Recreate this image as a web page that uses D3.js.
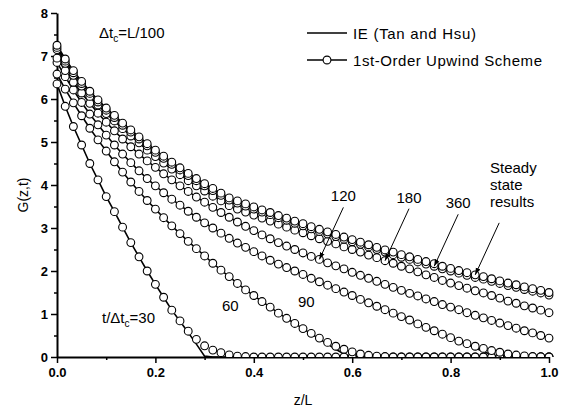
<!DOCTYPE html>
<html>
<head>
<meta charset="utf-8">
<script src="https://cdn.jsdelivr.net/npm/d3@7"></script>
<style>
  body { margin: 0; background: #fff; }
  svg { font-family: "Liberation Sans", Arial, sans-serif; }
</style>
</head>
<body>
<svg id="chart"></svg>
<script>
// z/L positions of the computed nodes (every L/60)
const zGrid = [0, 0.0167, 0.0333, 0.05, 0.0667, 0.0833, 0.1, 0.1167, 0.1333, 0.15, 0.1667, 0.1833,
  0.2, 0.2167, 0.2333, 0.25, 0.2667, 0.2833, 0.3, 0.3167, 0.3333, 0.35, 0.3667, 0.3833,
  0.4, 0.4167, 0.4333, 0.45, 0.4667, 0.4833, 0.5, 0.5167, 0.5333, 0.55, 0.5667, 0.5833,
  0.6, 0.6167, 0.6333, 0.65, 0.6667, 0.6833, 0.7, 0.7167, 0.7333, 0.75, 0.7667, 0.7833,
  0.8, 0.8167, 0.8333, 0.85, 0.8667, 0.8833, 0.9, 0.9167, 0.9333, 0.95, 0.9667, 0.9833, 1];

// 1st-order upwind results, G(z,t)
const upwind30 = [6.35, 5.83, 5.36, 4.93, 4.50, 4.12, 3.73, 3.38, 3.02, 2.66, 2.33, 2.00,
  1.69, 1.39, 1.09, 0.84, 0.60, 0.41, 0.26, 0.16, 0.10, 0.05, 0.02, 0.01,
  0, 0, 0, 0, 0, 0, 0, 0, 0, 0, 0, 0, 0, 0, 0, 0, 0, 0, 0, 0, 0, 0, 0, 0, 0, 0, 0, 0, 0, 0, 0, 0, 0, 0, 0, 0, 0];
const upwind60 = [6.58, 6.23, 5.91, 5.61, 5.32, 5.05, 4.79, 4.54, 4.30, 4.07, 3.85, 3.64,
  3.44, 3.24, 3.05, 2.87, 2.69, 2.52, 2.35, 2.18, 2.02, 1.87, 1.71, 1.56,
  1.43, 1.29, 1.16, 1.02, 0.90, 0.78, 0.66, 0.55, 0.44, 0.34, 0.25, 0.18,
  0.12, 0.07, 0.04, 0.02, 0.01, 0, 0, 0, 0, 0, 0, 0, 0, 0, 0, 0, 0, 0, 0, 0, 0, 0, 0, 0, 0];
const upwind90 = [6.85, 6.52, 6.21, 5.92, 5.65, 5.40, 5.16, 4.93, 4.72, 4.52, 4.33, 4.15,
  3.98, 3.82, 3.67, 3.53, 3.39, 3.25, 3.12, 3.00, 2.88, 2.76, 2.65, 2.55,
  2.45, 2.35, 2.25, 2.16, 2.08, 2.00, 1.92, 1.83, 1.75, 1.67, 1.59, 1.51,
  1.43, 1.34, 1.26, 1.18, 1.10, 1.02, 0.94, 0.86, 0.77, 0.69, 0.61, 0.53,
  0.45, 0.37, 0.31, 0.25, 0.20, 0.15, 0.11, 0.07, 0.045, 0.025, 0.01, 0.005, 0];
const upwind120 = [6.95, 6.66, 6.39, 6.14, 5.90, 5.67, 5.46, 5.26, 5.07, 4.89, 4.72, 4.56,
  4.41, 4.26, 4.12, 3.98, 3.85, 3.72, 3.60, 3.48, 3.36, 3.25, 3.14, 3.04,
  2.94, 2.84, 2.75, 2.66, 2.58, 2.50, 2.42, 2.34, 2.27, 2.19, 2.12, 2.05,
  1.97, 1.90, 1.83, 1.76, 1.69, 1.62, 1.55, 1.48, 1.42, 1.35, 1.29, 1.22,
  1.16, 1.10, 1.03, 0.97, 0.91, 0.85, 0.79, 0.73, 0.67, 0.61, 0.56, 0.50, 0.44];
const upwind180 = [7.15, 6.83, 6.55, 6.30, 6.06, 5.86, 5.66, 5.49, 5.31, 5.14, 4.98, 4.81,
  4.66, 4.51, 4.37, 4.24, 4.10, 3.98, 3.86, 3.74, 3.63, 3.52, 3.44, 3.37,
  3.30, 3.23, 3.16, 3.09, 3.02, 2.95, 2.89, 2.82, 2.75, 2.69, 2.63, 2.56,
  2.50, 2.44, 2.37, 2.31, 2.24, 2.18, 2.11, 2.05, 1.98, 1.91, 1.85, 1.78,
  1.72, 1.66, 1.60, 1.54, 1.49, 1.43, 1.37, 1.30, 1.25, 1.19, 1.14, 1.09, 1.03];
const upwind360 = [7.20, 6.88, 6.61, 6.36, 6.13, 5.93, 5.74, 5.57, 5.39, 5.23, 5.07, 4.91,
  4.76, 4.62, 4.48, 4.35, 4.22, 4.10, 3.98, 3.87, 3.76, 3.65, 3.58, 3.51,
  3.44, 3.37, 3.31, 3.24, 3.18, 3.11, 3.05, 2.98, 2.92, 2.86, 2.80, 2.74,
  2.68, 2.62, 2.56, 2.50, 2.44, 2.38, 2.32, 2.27, 2.21, 2.16, 2.11, 2.05,
  2.00, 1.95, 1.90, 1.85, 1.81, 1.76, 1.71, 1.66, 1.62, 1.57, 1.53, 1.49, 1.44];
const upwindSteady = [7.25, 6.93, 6.66, 6.41, 6.18, 5.98, 5.79, 5.62, 5.44, 5.28, 5.12, 4.96,
  4.81, 4.67, 4.53, 4.40, 4.27, 4.15, 4.03, 3.92, 3.81, 3.70, 3.63, 3.56,
  3.49, 3.42, 3.36, 3.29, 3.23, 3.16, 3.10, 3.03, 2.97, 2.91, 2.85, 2.79,
  2.73, 2.67, 2.61, 2.55, 2.49, 2.44, 2.38, 2.33, 2.27, 2.22, 2.17, 2.11,
  2.06, 2.01, 1.96, 1.91, 1.87, 1.82, 1.77, 1.72, 1.68, 1.63, 1.59, 1.55, 1.50];

// IE (Tan and Hsu) solution; sharp front where it differs from upwind
const ie30 = [6.35, 5.83, 5.36, 4.93, 4.50, 4.12, 3.73, 3.38, 3.02, 2.66, 2.33, 2.00,
  1.69, 1.39, 1.09, 0.83, 0.57, 0.30, 0.02, 0, 0, 0, 0, 0,
  0, 0, 0, 0, 0, 0, 0, 0, 0, 0, 0, 0, 0, 0, 0, 0, 0, 0, 0, 0, 0, 0, 0, 0, 0, 0, 0, 0, 0, 0, 0, 0, 0, 0, 0, 0, 0];
const ie60 = [6.58, 6.23, 5.91, 5.61, 5.32, 5.05, 4.79, 4.54, 4.30, 4.07, 3.85, 3.64,
  3.44, 3.24, 3.05, 2.87, 2.69, 2.52, 2.35, 2.18, 2.02, 1.87, 1.71, 1.56,
  1.43, 1.29, 1.16, 1.02, 0.90, 0.78, 0.66, 0.54, 0.42, 0.30, 0.18, 0.07,
  0, 0, 0, 0, 0, 0, 0, 0, 0, 0, 0, 0, 0, 0, 0, 0, 0, 0, 0, 0, 0, 0, 0, 0, 0];
const ie90 = [6.85, 6.52, 6.21, 5.92, 5.65, 5.40, 5.16, 4.93, 4.72, 4.52, 4.33, 4.15,
  3.98, 3.82, 3.67, 3.53, 3.39, 3.25, 3.12, 3.00, 2.88, 2.76, 2.65, 2.55,
  2.45, 2.35, 2.25, 2.16, 2.08, 2.00, 1.92, 1.83, 1.75, 1.67, 1.59, 1.51,
  1.43, 1.34, 1.26, 1.18, 1.10, 1.02, 0.94, 0.86, 0.77, 0.69, 0.61, 0.53,
  0.45, 0.37, 0.29, 0.21, 0.13, 0.05, 0, 0, 0, 0, 0, 0, 0];

const upwindSeries = [upwind30, upwind60, upwind90, upwind120, upwind180, upwind360, upwindSteady];
const ieSeries = [ie30, ie60, ie90, upwind120, upwind180, upwind360, upwindSteady];

const xTicks = [0, 0.2, 0.4, 0.6, 0.8, 1.0];
const xMinorTicks = [0.1, 0.3, 0.5, 0.7, 0.9];
const yTicks = [0, 1, 2, 3, 4, 5, 6, 7, 8];
const yMinorTicks = [0.5, 1.5, 2.5, 3.5, 4.5, 5.5, 6.5, 7.5];
const legendLabels = ['IE (Tan and Hsu)', '1st-Order Upwind Scheme'];

const width = 567, height = 410;
const margin = {top: 13, right: 18, bottom: 53, left: 57};
const w = width - margin.left - margin.right;
const h = height - margin.top - margin.bottom;

const svg = d3.select('#chart')
  .attr('width', width)
  .attr('height', height);

const g = svg.append('g')
  .attr('transform', 'translate(' + margin.left + ',' + margin.top + ')');

const x = d3.scaleLinear().domain([0, 1]).range([0, w]);
const y = d3.scaleLinear().domain([0, 8]).range([h, 0]);

// clip so the markers lying on G = 0 show only their upper half
const defs = svg.append('defs');
defs.append('clipPath').attr('id', 'plotClip')
  .append('rect').attr('x', -8).attr('y', -8).attr('width', w + 16).attr('height', h + 8);

defs.append('marker')
  .attr('id', 'arrow')
  .attr('viewBox', '0 0 10 10')
  .attr('refX', 10).attr('refY', 5)
  .attr('markerWidth', 7).attr('markerHeight', 7)
  .attr('markerUnits', 'userSpaceOnUse')
  .attr('orient', 'auto')
  .append('path').attr('d', 'M0,1.5 L10,5 L0,8.5 Z').attr('fill', 'black');

// Axes
g.append('g')
  .attr('transform', 'translate(0,' + h + ')')
  .call(d3.axisBottom(x).tickValues(xTicks).tickFormat(d3.format('.1f')).tickSize(6).tickSizeOuter(0).tickPadding(5));
g.append('g')
  .attr('transform', 'translate(0,' + h + ')')
  .call(d3.axisBottom(x).tickValues(xMinorTicks).tickFormat('').tickSize(3).tickSizeOuter(0))
  .select('.domain').remove();

g.append('g')
  .call(d3.axisLeft(y).tickValues(yTicks).tickFormat(d3.format('d')).tickSize(6).tickSizeOuter(0).tickPadding(3));
g.append('g')
  .call(d3.axisLeft(y).tickValues(yMinorTicks).tickFormat('').tickSize(3).tickSizeOuter(0))
  .select('.domain').remove();

g.selectAll('.domain').attr('stroke-width', 2);
g.selectAll('.tick line').attr('stroke-width', 1.5);
g.selectAll('.tick text')
  .attr('font-family', '"Liberation Sans", Arial, sans-serif')
  .attr('font-size', 13)
  .attr('font-weight', 'bold')
  .attr('fill', 'black');

// Axis titles
svg.append('text')
  .attr('x', margin.left + w / 2)
  .attr('y', 405)
  .attr('text-anchor', 'middle')
  .attr('font-size', 14)
  .text('z/L');
svg.append('text')
  .attr('transform', 'translate(28,' + (margin.top + h / 2 + 10) + ') rotate(-90)')
  .attr('text-anchor', 'middle')
  .attr('font-size', 14)
  .text('G(z,t)');

// Curves
const plot = g.append('g').attr('clip-path', 'url(#plotClip)');
const line = d3.line()
  .x((d, i) => x(zGrid[i]))
  .y(d => y(d));

plot.selectAll('path.ie')
  .data(ieSeries)
  .join('path')
  .attr('class', 'ie')
  .attr('fill', 'none')
  .attr('stroke', 'black')
  .attr('stroke-width', 1.6)
  .attr('d', line);

upwindSeries.forEach(series => {
  plot.append('g')
    .selectAll('circle')
    .data(series)
    .join('circle')
    .attr('cx', (d, i) => x(zGrid[i]))
    .attr('cy', d => y(d))
    .attr('r', 3.9)
    .attr('fill', 'white')
    .attr('stroke', 'black')
    .attr('stroke-width', 1.1);
});

// Legend
const legend = svg.append('g').attr('font-size', 15);
legend.append('line')
  .attr('x1', 307).attr('x2', 347).attr('y1', 33).attr('y2', 33)
  .attr('stroke', 'black').attr('stroke-width', 1.6);
legend.append('text').attr('x', 353).attr('y', 38.5)
  .attr('textLength', 123).attr('lengthAdjust', 'spacing')
  .text(legendLabels[0]);
legend.append('line')
  .attr('x1', 307).attr('x2', 347).attr('y1', 60).attr('y2', 60)
  .attr('stroke', 'black').attr('stroke-width', 1.6);
legend.append('circle')
  .attr('cx', 327).attr('cy', 60).attr('r', 3.9)
  .attr('fill', 'white').attr('stroke', 'black').attr('stroke-width', 1.1);
legend.append('text').attr('x', 353).attr('y', 65.5)
  .attr('textLength', 189).attr('lengthAdjust', 'spacing')
  .text(legendLabels[1]);

// Annotations
const note = svg.append('g').attr('font-size', 15).attr('fill', 'black');
const dt = note.append('text').attr('x', 99).attr('y', 38);
dt.append('tspan').text('Δt');
dt.append('tspan').attr('font-size', 10).attr('dy', 4).text('c');
dt.append('tspan').attr('dy', -4).text('=L/100');

const t30 = note.append('text').attr('x', 102).attr('y', 323);
t30.append('tspan').text('t/Δt');
t30.append('tspan').attr('font-size', 10).attr('dy', 4).text('c');
t30.append('tspan').attr('dy', -4).text('=30');

note.append('text').attr('x', 222).attr('y', 311).text('60');
note.append('text').attr('x', 298).attr('y', 307).text('90');

// Arrowed labels: the tip sits on the named curve at node idx
const arrowShift = [24, -52];
const callouts = [
  {text: '120', series: upwind120, idx: 32},
  {text: '180', series: upwind180, idx: 40},
  {text: '360', series: upwind360, idx: 46},
  {text: null, series: upwindSteady, idx: 51}
];
callouts.forEach(a => {
  const tx = margin.left + x(zGrid[a.idx]);
  const ty = margin.top + y(a.series[a.idx]);
  const sx = tx + arrowShift[0];
  const sy = ty + arrowShift[1];
  svg.append('line')
    .attr('x1', sx).attr('y1', sy)
    .attr('x2', tx).attr('y2', ty)
    .attr('stroke', 'black').attr('stroke-width', 1)
    .attr('marker-end', 'url(#arrow)');
  if (a.text) {
    note.append('text')
      .attr('x', sx).attr('y', sy - 6)
      .attr('text-anchor', 'middle')
      .text(a.text);
  }
});

const steady = note.append('text').attr('x', 490).attr('y', 173);
['Steady', 'state', 'results'].forEach((s, k) => {
  steady.append('tspan').attr('x', 490).attr('dy', k === 0 ? 0 : 17).text(s);
});
</script>
</body>
</html>
